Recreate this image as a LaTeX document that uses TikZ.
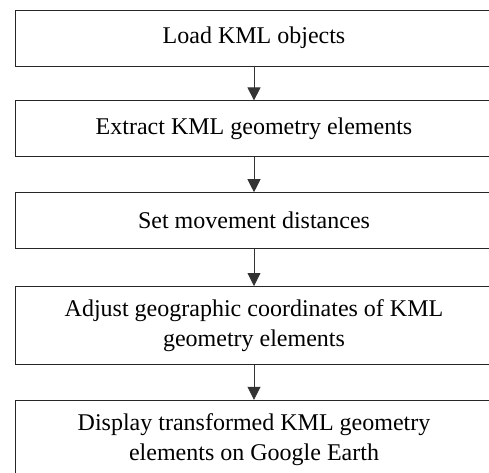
\documentclass[tikz,border=0pt]{standalone}
\usepackage{fontspec}
\setmainfont{Liberation Serif}
\usetikzlibrary{positioning,arrows.meta}

\begin{document}
\begin{tikzpicture}[step box/.style={draw=black!85,line width=0.8pt,minimum width=478pt,minimum height=56pt,align=center,inner sep=0pt,font=\fontsize{24}{30}\selectfont},
	flow/.style={-{Triangle[width=13pt,length=13pt]},draw=black!80,line width=0.8pt}]
		\useasboundingbox (0,0) rectangle (489pt,-472pt);
		\clip (0,0) rectangle (489pt,-472pt);
		\node[step box] (load) at (254pt,-38pt) {Load KML objects};
		\node[step box] (extract) [below=34pt of load] {Extract KML geometry elements};
		\node[step box] (dist) [below=35pt of extract] {Set movement distances};
		\node[step box,minimum height=78pt] (adjust) [below=37pt of dist] {Adjust geographic coordinates of KML\\geometry elements};
		\node[step box,minimum height=78pt] (show) [below=35pt of adjust] {Display transformed KML geometry\\elements on Google Earth};

		\draw[flow] (load) -- (extract);
		\draw[flow] (extract) -- (dist);
		\draw[flow] (dist) -- (adjust);
		\draw[flow] (adjust) -- (show);
	\end{tikzpicture}
\end{document}
